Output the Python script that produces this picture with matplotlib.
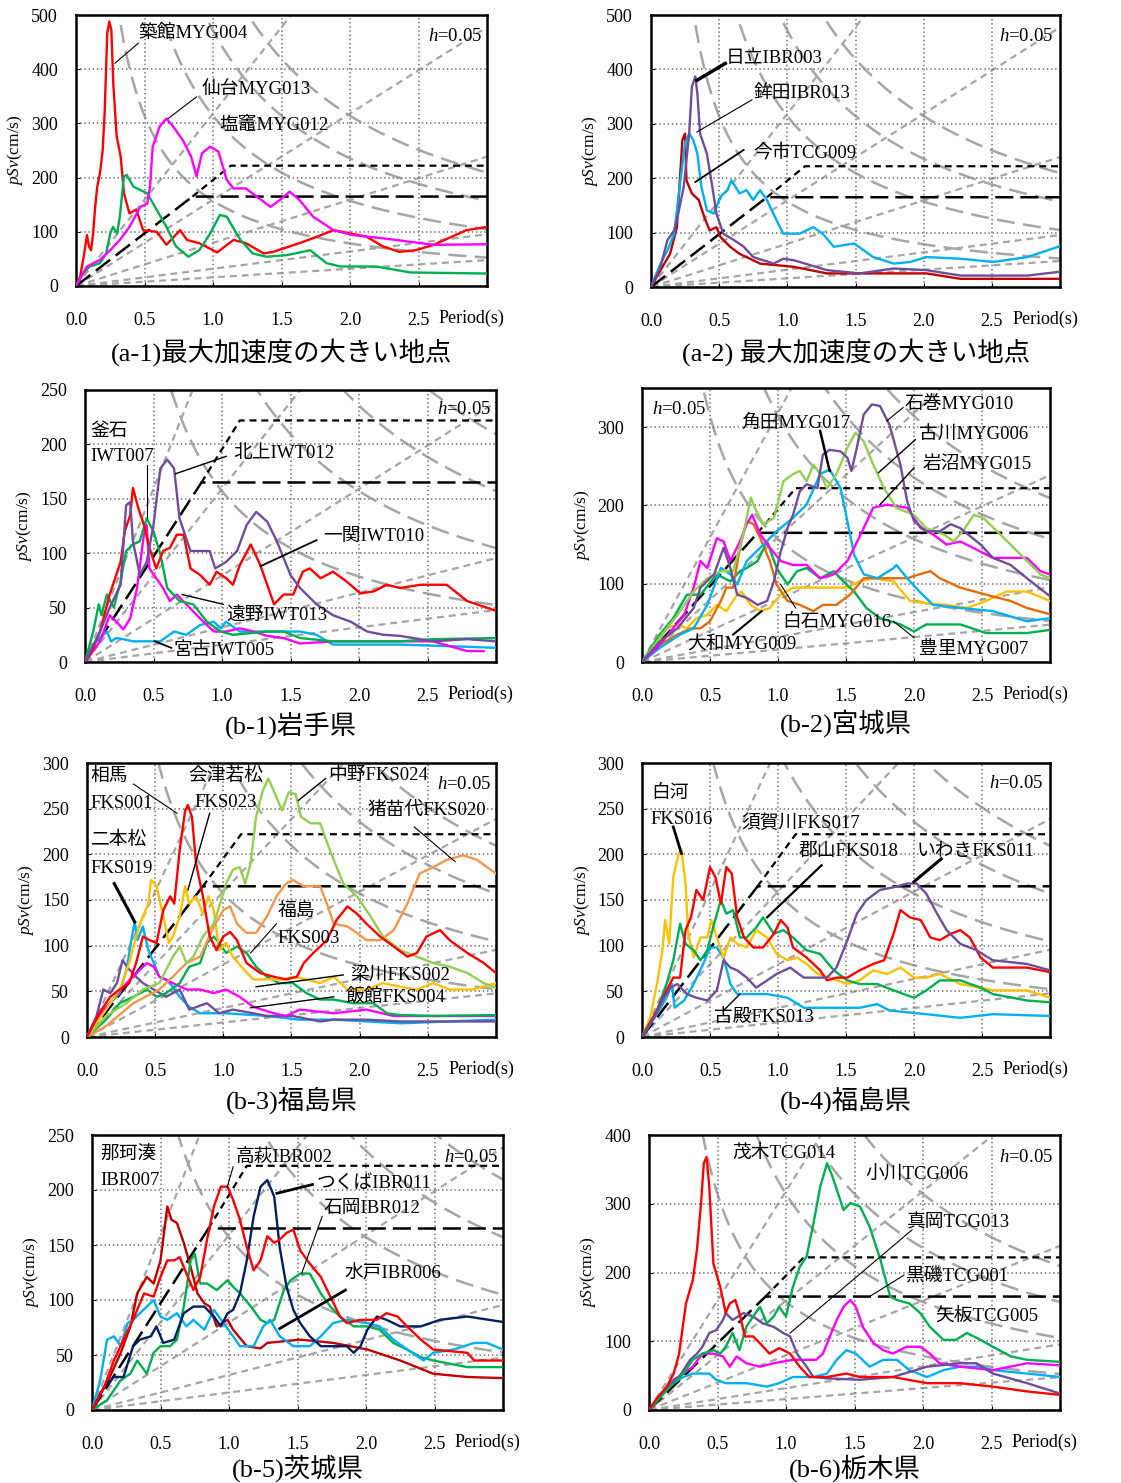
import numpy as np
import matplotlib.pyplot as plt

plt.rcParams['font.family'] = ['Liberation Serif', 'Noto Sans CJK JP']
plt.rcParams['mathtext.fontset'] = 'custom'
plt.rcParams['mathtext.rm'] = 'Liberation Serif'
plt.rcParams['mathtext.it'] = 'Liberation Serif:italic'
plt.rcParams['lines.scale_dashes'] = False

# ---- colours
RED = '#FF0000'
DRED = '#C00000'
GREEN = '#00B050'
LGREEN = '#92D050'
MAG = '#FF00FF'
PURP = '#6E4E9C'
CYAN = '#00B0F0'
ORANGE = '#E46C0A'
LORANGE = '#F79646'
AMBER = '#FFC000'
NAVY = '#002060'
GRAY = '#A6A6A6'

# ---- reference lines (constant acceleration in gal, constant displacement in cm)
sa_levels = [100, 200, 500, 1000, 2000]
sd_levels = [25, 50, 75, 100]
design_long_T = [0.0, 0.85, 3.0]
design_long_V = [0, 165, 165]
design_short_T = [0.85, 1.13, 3.0]
design_short_V = [165, 222, 222]

# ---- (a-1)
t_a1_myg004 = [0, 0.03, 0.06, 0.08, 0.095, 0.11, 0.125, 0.14, 0.155, 0.175, 0.195, 0.21, 0.228, 0.243, 0.258, 0.272, 0.297, 0.326, 0.35, 0.39, 0.44, 0.49, 0.59, 0.66, 0.76, 0.81, 0.9, 1.03, 1.15, 1.24, 1.37, 1.44, 1.63, 1.76, 1.88, 2.0, 2.12, 2.24, 2.36, 2.48, 2.61, 2.85, 3.0]
v_a1_myg004 = [0, 17, 60, 94, 73, 66, 97, 146, 183, 208, 251, 325, 466, 488, 472, 374, 276, 239, 171, 134, 141, 103, 100, 76, 103, 85, 79, 62, 85, 79, 60, 63, 79, 91, 103, 97, 91, 73, 63, 66, 76, 103, 109]
t_a1_myg012 = [0, 0.05, 0.1, 0.175, 0.22, 0.25, 0.27, 0.3, 0.32, 0.35, 0.37, 0.42, 0.47, 0.52, 0.59, 0.66, 0.73, 0.82, 0.9, 0.98, 1.05, 1.1, 1.2, 1.29, 1.39, 1.54, 1.71, 1.83, 1.93, 2.19, 2.44, 3.0]
v_a1_myg012 = [0, 23, 36, 42, 60, 97, 109, 97, 128, 202, 205, 183, 177, 171, 140, 109, 73, 54, 66, 97, 131, 128, 85, 60, 54, 57, 66, 42, 36, 36, 25, 23]
t_a1_myg013 = [0, 0.08, 0.175, 0.25, 0.32, 0.39, 0.47, 0.52, 0.54, 0.56, 0.61, 0.66, 0.71, 0.78, 0.84, 0.88, 0.92, 0.98, 1.04, 1.1, 1.15, 1.24, 1.42, 1.49, 1.56, 1.63, 1.73, 1.88, 2.02, 2.24, 2.61, 3.0]
v_a1_myg013 = [0, 36, 48, 66, 85, 109, 146, 152, 183, 257, 294, 309, 294, 269, 239, 202, 245, 257, 248, 196, 180, 180, 146, 159, 174, 159, 128, 103, 94, 88, 76, 77]

# ---- (a-2)
t_a2_ibr003 = [0, 0.07, 0.12, 0.17, 0.2, 0.24, 0.28, 0.3, 0.325, 0.34, 0.36, 0.41, 0.45, 0.48, 0.53, 0.61, 0.68, 0.75, 0.9, 0.97, 1.05, 1.29, 1.53, 1.78, 2.02, 2.27, 2.76, 3.0]
v_a2_ibr003 = [0, 37, 86, 104, 135, 184, 282, 368, 387, 356, 282, 245, 184, 135, 98, 86, 74, 55, 43, 52, 49, 31, 25, 34, 31, 21, 21, 28]
t_a2_tcg009 = [0, 0.07, 0.14, 0.19, 0.23, 0.25, 0.26, 0.3, 0.35, 0.39, 0.43, 0.48, 0.51, 0.58, 0.65, 0.8, 1.05, 1.29, 1.53, 1.78, 2.02, 2.27, 3.0]
v_a2_tcg009 = [0, 31, 61, 110, 270, 282, 196, 172, 160, 129, 104, 110, 92, 74, 61, 43, 37, 25, 25, 25, 25, 15, 15]
t_a2_ibr013 = [0, 0.07, 0.12, 0.17, 0.21, 0.25, 0.28, 0.31, 0.34, 0.37, 0.41, 0.46, 0.51, 0.56, 0.59, 0.65, 0.7, 0.75, 0.8, 0.85, 0.92, 0.97, 1.09, 1.19, 1.26, 1.34, 1.49, 1.63, 1.78, 1.9, 2.02, 2.27, 2.51, 2.76, 3.0]
v_a2_ibr013 = [0, 43, 67, 98, 184, 264, 282, 270, 245, 184, 141, 135, 166, 178, 196, 172, 178, 160, 178, 160, 123, 98, 98, 110, 98, 74, 80, 55, 43, 46, 55, 52, 46, 55, 75]

# ---- (b-1)
t_b1_iwt010 = [0, 0.05, 0.11, 0.18, 0.26, 0.29, 0.33, 0.35, 0.39, 0.43, 0.47, 0.52, 0.57, 0.62, 0.67, 0.72, 0.77, 0.84, 0.91, 0.96, 1.03, 1.08, 1.13, 1.21, 1.28, 1.38, 1.45, 1.52, 1.59, 1.64, 1.72, 1.81, 1.91, 2.01, 2.11, 2.2, 2.3, 2.45, 2.64, 2.79, 3.0]
v_b1_iwt010 = [0, 10, 28, 62, 92, 120, 135, 160, 141, 126, 105, 86, 102, 105, 117, 117, 86, 80, 71, 83, 77, 71, 89, 108, 89, 53, 62, 62, 83, 86, 77, 83, 74, 63, 65, 71, 68, 71, 71, 56, 47]
t_b1_iwt012 = [0, 0.11, 0.18, 0.26, 0.3, 0.33, 0.35, 0.4, 0.45, 0.5, 0.55, 0.6, 0.65, 0.69, 0.77, 0.84, 0.91, 0.95, 1.03, 1.11, 1.18, 1.25, 1.33, 1.4, 1.5, 1.57, 1.69, 1.81, 1.94, 2.06, 2.18, 2.3, 2.54, 2.79, 3.0]
v_b1_iwt012 = [0, 28, 50, 71, 144, 147, 111, 80, 92, 126, 178, 186, 178, 132, 102, 102, 102, 86, 92, 102, 126, 138, 129, 111, 80, 68, 53, 43, 37, 28, 25, 24, 19, 21, 19]
t_b1_iwt007 = [0, 0.06, 0.1, 0.12, 0.16, 0.21, 0.26, 0.3, 0.35, 0.4, 0.45, 0.5, 0.55, 0.6, 0.69, 0.79, 0.89, 0.99, 1.08, 1.33, 1.45, 1.57, 1.81, 2.06, 2.3, 2.54, 3.0]
v_b1_iwt007 = [0, 28, 53, 43, 62, 50, 74, 102, 108, 111, 132, 120, 99, 68, 56, 53, 37, 28, 25, 28, 28, 22, 19, 19, 19, 21, 22]
t_b1_iwt013 = [0, 0.11, 0.18, 0.23, 0.28, 0.33, 0.38, 0.43, 0.45, 0.47, 0.52, 0.57, 0.62, 0.67, 0.74, 0.84, 0.94, 1.03, 1.13, 1.23, 1.33, 1.45, 1.57, 1.81, 2.06, 2.54, 2.79, 2.91]
v_b1_iwt013 = [0, 19, 43, 37, 30, 40, 68, 117, 126, 86, 77, 68, 56, 62, 53, 40, 28, 28, 31, 28, 24, 22, 17, 19, 19, 19, 10, 10]
t_b1_iwt005 = [0, 0.06, 0.11, 0.16, 0.19, 0.23, 0.28, 0.35, 0.47, 0.55, 0.65, 0.74, 0.84, 0.94, 0.99, 1.03, 1.13, 1.33, 1.57, 1.69, 1.81, 2.3, 2.79, 3.0]
v_b1_iwt005 = [0, 16, 22, 28, 19, 22, 21, 19, 19, 19, 28, 25, 34, 37, 31, 37, 28, 28, 28, 25, 16, 16, 14, 13]

# ---- (b-2)
t_b2_myg010 = [0, 0.13, 0.26, 0.38, 0.43, 0.53, 0.6, 0.65, 0.7, 0.77, 0.85, 0.92, 0.97, 1.02, 1.07, 1.11, 1.16, 1.21, 1.29, 1.33, 1.38, 1.46, 1.51, 1.54, 1.58, 1.63, 1.69, 1.75, 1.82, 1.9, 1.95, 2.0, 2.09, 2.19, 2.27, 2.34, 2.49, 2.58, 2.71, 2.83, 3.0]
v_b2_myg010 = [0, 26, 43, 69, 95, 112, 146, 120, 86, 82, 73, 78, 103, 141, 171, 188, 218, 227, 222, 265, 271, 269, 261, 244, 274, 316, 329, 327, 303, 252, 205, 180, 167, 167, 176, 171, 150, 133, 124, 107, 84]
t_b2_myg006 = [0, 0.13, 0.26, 0.38, 0.48, 0.58, 0.67, 0.75, 0.8, 0.83, 0.89, 0.97, 1.04, 1.11, 1.16, 1.21, 1.26, 1.31, 1.36, 1.43, 1.51, 1.57, 1.63, 1.7, 1.78, 1.87, 2.0, 2.09, 2.22, 2.29, 2.36, 2.44, 2.51, 2.61, 2.71, 2.83, 2.93, 3.0]
v_b2_myg006 = [0, 31, 60, 90, 107, 116, 116, 167, 210, 197, 176, 184, 231, 240, 244, 231, 252, 240, 222, 240, 274, 293, 282, 252, 222, 197, 188, 171, 163, 154, 167, 188, 184, 167, 150, 129, 112, 107]
t_b2_myg015 = [0, 0.11, 0.21, 0.31, 0.38, 0.43, 0.48, 0.55, 0.6, 0.65, 0.72, 0.77, 0.81, 0.87, 0.94, 1.02, 1.11, 1.21, 1.31, 1.41, 1.51, 1.56, 1.63, 1.7, 1.8, 1.95, 2.05, 2.14, 2.24, 2.34, 2.49, 2.58, 2.83, 2.93, 3.0]
v_b2_myg015 = [0, 18, 39, 60, 95, 129, 120, 158, 154, 129, 154, 176, 188, 163, 146, 129, 124, 124, 107, 112, 129, 146, 171, 197, 201, 197, 171, 163, 150, 154, 141, 133, 133, 116, 112]
t_b2_myg017 = [0, 0.13, 0.28, 0.38, 0.48, 0.58, 0.65, 0.7, 0.77, 0.87, 0.99, 1.11, 1.21, 1.31, 1.38, 1.46, 1.51, 1.56, 1.63, 1.73, 1.85, 1.87, 1.95, 2.04, 2.14, 2.34, 2.58, 2.83, 3.0]
v_b2_myg017 = [0, 18, 35, 43, 73, 120, 112, 99, 129, 146, 167, 184, 201, 240, 246, 222, 180, 137, 112, 107, 120, 124, 107, 90, 73, 69, 65, 52, 56]
t_b2_myg016 = [0, 0.13, 0.26, 0.36, 0.43, 0.5, 0.58, 0.62, 0.67, 0.72, 0.77, 0.82, 0.87, 0.94, 0.99, 1.07, 1.16, 1.26, 1.33, 1.43, 1.53, 1.63, 1.73, 1.83, 1.95, 2.04, 2.12, 2.19, 2.34, 2.53, 2.71, 2.83, 3.0]
v_b2_myg016 = [0, 22, 35, 43, 43, 52, 78, 95, 95, 146, 180, 176, 158, 129, 99, 78, 73, 65, 73, 73, 86, 107, 107, 107, 107, 112, 116, 107, 95, 86, 78, 69, 61]
t_b2_myg007 = [0, 0.13, 0.23, 0.33, 0.43, 0.55, 0.65, 0.72, 0.77, 0.85, 0.92, 0.99, 1.07, 1.14, 1.21, 1.31, 1.41, 1.48, 1.56, 1.65, 1.75, 1.9, 2.0, 2.09, 2.34, 2.53, 2.83, 3.0]
v_b2_myg007 = [0, 35, 56, 86, 86, 112, 103, 116, 120, 129, 154, 120, 99, 116, 120, 107, 116, 103, 90, 69, 56, 48, 39, 48, 48, 37, 37, 41]
t_b2_myg009 = [0, 0.09, 0.18, 0.26, 0.33, 0.4, 0.48, 0.55, 0.62, 0.7, 0.73, 0.8, 0.87, 0.94, 1.02, 1.11, 1.21, 1.36, 1.51, 1.6, 1.7, 1.85, 1.97, 2.09, 2.24, 2.39, 2.53, 2.68, 2.83, 3.0]
v_b2_myg009 = [0, 18, 43, 48, 43, 56, 60, 73, 65, 86, 90, 73, 65, 69, 86, 95, 95, 95, 95, 103, 107, 103, 78, 75, 73, 69, 78, 90, 90, 78]

# ---- (b-3)
t_b3_red = [0, 0.09, 0.17, 0.24, 0.31, 0.36, 0.41, 0.46, 0.51, 0.56, 0.61, 0.64, 0.68, 0.72, 0.74, 0.77, 0.8, 0.85, 0.9, 0.95, 1.0, 1.05, 1.1, 1.17, 1.27, 1.37, 1.46, 1.54, 1.59, 1.66, 1.76, 1.83, 1.91, 1.98, 2.05, 2.15, 2.25, 2.35, 2.42, 2.49, 2.59, 2.66, 2.79, 2.91, 3.0]
v_b3_red = [0, 26, 44, 52, 59, 81, 110, 106, 103, 139, 154, 146, 205, 248, 254, 241, 190, 154, 110, 95, 110, 115, 106, 81, 70, 66, 63, 66, 81, 92, 106, 128, 143, 135, 124, 110, 99, 88, 92, 110, 117, 106, 92, 81, 70]
t_b3_fks024 = [0, 0.14, 0.29, 0.41, 0.53, 0.63, 0.68, 0.73, 0.78, 0.85, 0.93, 0.97, 1.02, 1.07, 1.12, 1.16, 1.2, 1.24, 1.29, 1.33, 1.38, 1.43, 1.48, 1.53, 1.57, 1.64, 1.71, 1.78, 1.88, 1.98, 2.08, 2.17, 2.3, 2.42, 2.54, 2.66, 2.79, 2.91, 3.0]
v_b3_fks024 = [0, 23, 37, 52, 59, 88, 99, 81, 88, 110, 124, 143, 168, 183, 186, 168, 190, 241, 270, 283, 266, 248, 268, 266, 241, 234, 234, 205, 168, 154, 132, 110, 95, 88, 81, 77, 70, 59, 54]
t_b3_fks020 = [0, 0.14, 0.34, 0.53, 0.63, 0.73, 0.83, 0.93, 1.0, 1.05, 1.1, 1.17, 1.24, 1.32, 1.39, 1.46, 1.51, 1.59, 1.71, 1.76, 1.81, 1.91, 1.98, 2.05, 2.15, 2.25, 2.35, 2.44, 2.54, 2.64, 2.76, 2.86, 3.0]
v_b3_fks020 = [0, 12, 37, 52, 66, 81, 88, 121, 139, 143, 124, 114, 114, 132, 154, 168, 172, 165, 165, 146, 124, 121, 114, 106, 106, 117, 146, 179, 186, 194, 199, 194, 179]
t_b3_amber = [0, 0.14, 0.24, 0.31, 0.36, 0.41, 0.45, 0.47, 0.51, 0.56, 0.6, 0.63, 0.68, 0.72, 0.75, 0.8, 0.85, 0.89, 0.93, 0.97, 1.02, 1.07, 1.15, 1.22, 1.32, 1.44, 1.51, 1.61, 1.71, 1.81, 1.91, 2.05, 2.17, 2.3, 2.42, 2.54, 2.66, 2.83, 3.0]
v_b3_amber = [0, 30, 52, 81, 110, 132, 146, 172, 165, 132, 103, 110, 132, 165, 146, 154, 135, 154, 139, 95, 103, 88, 74, 63, 63, 63, 66, 63, 59, 66, 52, 52, 59, 55, 52, 59, 52, 52, 59]
t_b3_fks019 = [0, 0.09, 0.17, 0.24, 0.29, 0.33, 0.35, 0.37, 0.41, 0.45, 0.49, 0.53, 0.58, 0.63, 0.68, 0.75, 0.83, 1.02, 1.22, 1.32, 1.56, 1.81, 2.3, 3.0]
v_b3_fks019 = [0, 26, 37, 48, 74, 110, 126, 106, 121, 95, 81, 66, 63, 55, 44, 33, 26, 26, 24, 23, 19, 19, 15, 19]
t_b3_purple = [0, 0.07, 0.12, 0.17, 0.22, 0.26, 0.31, 0.36, 0.41, 0.49, 0.58, 0.68, 0.75, 0.88, 0.97, 1.07, 1.22, 1.32, 1.51, 1.71, 1.81, 2.05, 2.3, 2.54, 3.0]
v_b3_purple = [0, 23, 52, 48, 59, 84, 74, 66, 59, 52, 44, 52, 30, 37, 26, 30, 26, 23, 23, 17, 19, 19, 17, 17, 17]
t_b3_magenta = [0, 0.09, 0.19, 0.29, 0.39, 0.44, 0.49, 0.53, 0.63, 0.73, 0.83, 0.93, 1.02, 1.12, 1.22, 1.37, 1.46, 1.56, 1.81, 2.05, 2.25, 3.0]
v_b3_magenta = [0, 23, 41, 59, 74, 81, 77, 66, 59, 52, 52, 48, 52, 44, 33, 26, 23, 30, 26, 30, 23, 23]
t_b3_green = [0, 0.14, 0.24, 0.34, 0.44, 0.51, 0.58, 0.68, 0.75, 0.83, 0.88, 0.93, 0.97, 1.02, 1.1, 1.17, 1.24, 1.32, 1.41, 1.51, 1.61, 1.71, 1.81, 1.95, 2.1, 2.2, 2.3, 2.54, 3.0]
v_b3_green = [0, 19, 37, 44, 52, 44, 48, 59, 77, 81, 103, 110, 103, 92, 99, 92, 77, 66, 59, 59, 48, 41, 41, 37, 37, 26, 24, 23, 24]

# ---- (b-4)
t_b4_fks016 = [0, 0.06, 0.11, 0.15, 0.17, 0.2, 0.23, 0.27, 0.29, 0.32, 0.34, 0.38, 0.43, 0.48, 0.51, 0.55, 0.6, 0.65, 0.7, 0.77, 0.84, 0.92, 0.99, 1.07, 1.14, 1.21, 1.29, 1.38, 1.51, 1.6, 1.7, 1.8, 1.9, 2.0, 2.09, 2.19, 2.34, 2.49, 2.58, 2.83, 3.0]
v_b4_fks016 = [0, 21, 58, 95, 128, 102, 175, 201, 205, 168, 113, 87, 109, 109, 128, 109, 87, 109, 102, 98, 117, 109, 91, 84, 87, 80, 69, 65, 58, 62, 73, 69, 76, 65, 65, 69, 58, 54, 51, 51, 43]
t_b4_fks017 = [0, 0.11, 0.18, 0.23, 0.28, 0.32, 0.36, 0.4, 0.45, 0.5, 0.54, 0.58, 0.62, 0.66, 0.7, 0.75, 0.82, 0.89, 0.97, 1.02, 1.07, 1.11, 1.21, 1.31, 1.36, 1.43, 1.51, 1.6, 1.7, 1.78, 1.85, 1.9, 1.97, 2.05, 2.12, 2.19, 2.27, 2.34, 2.41, 2.49, 2.58, 2.83, 3.0]
v_b4_fks017 = [0, 29, 51, 65, 65, 117, 131, 161, 150, 186, 175, 146, 186, 179, 131, 109, 98, 98, 113, 128, 120, 98, 87, 73, 62, 65, 65, 73, 80, 84, 113, 139, 131, 128, 109, 106, 113, 117, 109, 87, 76, 76, 71]
t_b4_fks018 = [0, 0.11, 0.18, 0.23, 0.28, 0.32, 0.38, 0.43, 0.48, 0.53, 0.58, 0.62, 0.67, 0.72, 0.77, 0.84, 0.89, 0.97, 1.04, 1.11, 1.21, 1.31, 1.41, 1.51, 1.6, 1.73, 1.85, 2.0, 2.09, 2.19, 2.34, 2.49, 2.58, 2.83, 3.0]
v_b4_fks018 = [0, 29, 58, 84, 124, 102, 95, 84, 95, 124, 150, 135, 139, 109, 109, 120, 131, 113, 117, 109, 95, 91, 73, 62, 58, 58, 51, 43, 51, 62, 62, 54, 47, 40, 38]
t_b4_fks011 = [0, 0.09, 0.16, 0.21, 0.26, 0.33, 0.4, 0.48, 0.55, 0.6, 0.65, 0.7, 0.77, 0.84, 0.92, 0.99, 1.09, 1.19, 1.29, 1.36, 1.43, 1.51, 1.58, 1.65, 1.75, 1.85, 1.95, 2.02, 2.09, 2.17, 2.24, 2.34, 2.46, 2.58, 2.83, 3.0]
v_b4_fks011 = [0, 21, 43, 54, 58, 47, 43, 40, 51, 84, 76, 73, 65, 54, 62, 69, 76, 65, 65, 65, 76, 106, 135, 150, 161, 164, 168, 168, 157, 135, 117, 102, 95, 84, 80, 73]
t_b4_fks013 = [0, 0.11, 0.18, 0.22, 0.24, 0.31, 0.38, 0.45, 0.5, 0.55, 0.6, 0.65, 0.7, 0.82, 0.92, 1.07, 1.19, 1.36, 1.6, 1.73, 1.82, 2.09, 2.34, 2.58, 3.0]
v_b4_fks013 = [0, 25, 43, 58, 32, 40, 58, 80, 98, 98, 87, 58, 47, 47, 47, 43, 32, 32, 32, 36, 29, 25, 21, 25, 23]

# ---- (b-5)
t_b5_ibr007 = [0, 0.06, 0.13, 0.21, 0.28, 0.33, 0.4, 0.45, 0.5, 0.55, 0.58, 0.62, 0.67, 0.72, 0.77, 0.82, 0.86, 0.91, 0.99, 1.03, 1.13, 1.23, 1.28, 1.52, 1.76, 2.01, 2.25, 2.49, 2.74, 3.0]
v_b5_ibr007 = [0, 15, 30, 52, 76, 106, 121, 115, 136, 185, 173, 170, 152, 130, 106, 97, 94, 76, 82, 73, 58, 56, 61, 64, 61, 55, 45, 33, 30, 29]
t_b5_ibr002 = [0, 0.09, 0.16, 0.23, 0.3, 0.38, 0.45, 0.5, 0.55, 0.6, 0.64, 0.69, 0.74, 0.79, 0.84, 0.89, 0.94, 0.99, 1.03, 1.08, 1.13, 1.18, 1.23, 1.28, 1.33, 1.37, 1.42, 1.47, 1.52, 1.59, 1.67, 1.74, 1.81, 1.86, 1.96, 2.08, 2.15, 2.23, 2.3, 2.4, 2.49, 2.74, 2.79, 3.0]
v_b5_ibr002 = [0, 21, 45, 64, 82, 106, 103, 121, 136, 136, 139, 124, 109, 121, 155, 185, 203, 203, 191, 173, 148, 127, 136, 158, 152, 155, 161, 164, 145, 133, 121, 103, 85, 79, 82, 82, 88, 85, 76, 64, 55, 52, 45, 45]
t_b5_ibr011 = [0, 0.09, 0.16, 0.23, 0.3, 0.35, 0.43, 0.47, 0.52, 0.6, 0.67, 0.74, 0.82, 0.89, 0.94, 0.99, 1.03, 1.08, 1.13, 1.18, 1.23, 1.28, 1.33, 1.37, 1.42, 1.47, 1.52, 1.59, 1.67, 1.76, 1.86, 1.91, 1.96, 2.01, 2.08, 2.15, 2.25, 2.4, 2.54, 2.74, 3.0]
v_b5_ibr011 = [0, 21, 30, 30, 58, 64, 67, 76, 61, 64, 88, 94, 94, 85, 76, 88, 91, 106, 136, 176, 203, 209, 194, 148, 112, 91, 79, 67, 58, 58, 58, 52, 58, 73, 85, 82, 76, 76, 82, 85, 80]
t_b5_ibr012 = [0, 0.11, 0.21, 0.28, 0.33, 0.4, 0.45, 0.5, 0.57, 0.62, 0.67, 0.72, 0.75, 0.79, 0.84, 0.91, 0.99, 1.03, 1.08, 1.16, 1.23, 1.28, 1.33, 1.4, 1.45, 1.52, 1.59, 1.67, 1.74, 1.81, 1.91, 2.01, 2.1, 2.2, 2.3, 2.4, 2.49, 2.74, 3.0]
v_b5_ibr012 = [0, 9, 27, 33, 45, 33, 52, 58, 58, 64, 94, 136, 142, 115, 115, 109, 118, 112, 106, 94, 82, 79, 82, 109, 118, 124, 124, 106, 94, 85, 76, 76, 73, 61, 55, 48, 45, 39, 39]
t_b5_ibr006 = [0, 0.06, 0.11, 0.16, 0.21, 0.26, 0.3, 0.35, 0.4, 0.45, 0.5, 0.55, 0.62, 0.69, 0.74, 0.82, 0.89, 0.96, 1.03, 1.08, 1.18, 1.25, 1.3, 1.37, 1.47, 1.59, 1.67, 1.76, 1.86, 2.01, 2.1, 2.2, 2.3, 2.42, 2.49, 2.64, 2.79, 2.88, 3.0]
v_b5_ibr006 = [0, 27, 64, 67, 58, 79, 82, 88, 94, 100, 85, 82, 88, 76, 82, 73, 91, 79, 67, 58, 58, 76, 82, 67, 58, 58, 67, 79, 82, 79, 76, 64, 55, 45, 52, 55, 61, 61, 55]

# ---- (b-6)
t_b6_tcg014 = [0, 0.05, 0.13, 0.18, 0.22, 0.27, 0.32, 0.35, 0.38, 0.4, 0.42, 0.44, 0.47, 0.52, 0.56, 0.59, 0.63, 0.66, 0.7, 0.76, 0.81, 0.88, 0.95, 1.03, 1.1, 1.17, 1.3, 1.44, 1.54, 1.78, 2.03, 2.27, 2.51, 2.76, 3.0]
v_b6_tcg014 = [0, 15, 34, 53, 82, 155, 189, 233, 301, 359, 368, 325, 213, 179, 141, 155, 160, 141, 107, 107, 97, 82, 90, 82, 63, 48, 48, 53, 48, 48, 39, 39, 34, 27, 22]
t_b6_tcg006 = [0, 0.13, 0.25, 0.32, 0.39, 0.47, 0.52, 0.56, 0.61, 0.66, 0.71, 0.76, 0.81, 0.86, 0.91, 0.95, 1.0, 1.05, 1.1, 1.15, 1.2, 1.25, 1.3, 1.34, 1.42, 1.47, 1.54, 1.61, 1.69, 1.76, 1.81, 1.9, 1.98, 2.05, 2.15, 2.24, 2.32, 2.42, 2.51, 2.64, 2.76, 3.0]
v_b6_tcg006 = [0, 29, 53, 73, 82, 87, 82, 92, 112, 87, 121, 136, 150, 126, 136, 150, 136, 179, 208, 223, 271, 325, 359, 339, 291, 301, 296, 267, 218, 165, 160, 155, 141, 121, 102, 102, 112, 102, 92, 78, 73, 70]
t_b6_tcg013 = [0, 0.08, 0.15, 0.22, 0.3, 0.35, 0.39, 0.44, 0.49, 0.54, 0.56, 0.61, 0.69, 0.76, 0.83, 0.91, 0.98, 1.03, 1.08, 1.15, 1.2, 1.3, 1.54, 1.78, 2.03, 2.27, 2.39, 2.51, 2.76, 3.0]
v_b6_tcg013 = [0, 19, 39, 48, 73, 82, 92, 112, 116, 131, 141, 131, 141, 136, 126, 121, 112, 107, 82, 63, 48, 46, 44, 48, 63, 68, 68, 53, 39, 24]
t_b6_tcg001 = [0, 0.08, 0.18, 0.25, 0.32, 0.39, 0.47, 0.54, 0.59, 0.64, 0.71, 0.81, 0.91, 1.05, 1.15, 1.22, 1.27, 1.32, 1.37, 1.42, 1.47, 1.51, 1.56, 1.64, 1.71, 1.78, 1.88, 1.98, 2.05, 2.12, 2.27, 2.51, 2.76, 3.0]
v_b6_tcg001 = [0, 19, 44, 53, 63, 82, 82, 78, 63, 78, 68, 63, 68, 73, 73, 73, 82, 107, 131, 150, 160, 150, 121, 97, 87, 82, 92, 92, 82, 68, 63, 58, 68, 65]
t_b6_tcg005 = [0, 0.08, 0.18, 0.25, 0.32, 0.39, 0.44, 0.49, 0.56, 0.71, 0.86, 0.95, 1.05, 1.2, 1.3, 1.37, 1.44, 1.51, 1.61, 1.71, 1.81, 1.9, 2.03, 2.15, 2.27, 2.42, 2.51, 2.76, 3.0]
v_b6_tcg005 = [0, 19, 39, 48, 53, 53, 53, 44, 39, 39, 34, 39, 48, 48, 53, 73, 87, 82, 63, 73, 73, 58, 48, 58, 63, 63, 58, 53, 48]

# ---- figure
W, H = 1121, 1483
fig = plt.figure(figsize=(W / 100, H / 100), dpi=100)


def add_ax(l, r, t, b):
    return fig.add_axes([l / W, 1 - b / H, (r - l) / W, (b - t) / H])


def draw_panel(box, ymax, yticks, series, labels, leaders, hpos, subtitle, sub_y):
    ax = add_ax(*box)
    tt = np.linspace(0.005, 3.0, 500)
    for sa in sa_levels:
        ax.plot(tt, sa * tt / (2 * np.pi), color=GRAY, lw=1.6, dashes=(5, 3.5), zorder=1)
    for sd in sd_levels:
        ax.plot(tt, 2 * np.pi * sd / tt, color=GRAY, lw=1.8, dashes=(13, 6), zorder=1)
    ax.plot(design_long_T, design_long_V, color='black', lw=1.8, dashes=(13, 5), zorder=2)
    ax.plot(design_short_T, design_short_V, color='black', lw=1.6, dashes=(5, 3.5), zorder=2)
    for t, v, c in series:
        ax.plot(t, v, color=c, lw=1.7, zorder=3)
    for txt, x, y in labels:
        ax.text(x, y, txt, fontsize=13.5, ha='left', va='center', zorder=5)
    for x1, y1, x2, y2, lw in leaders:
        ax.plot([x1, x2], [y1, y2], color='black', lw=lw, zorder=4)
    ax.text(hpos[0], hpos[1], r'$h$=0.05', fontsize=13.5, ha=hpos[2], va='center', zorder=5)
    ax.set_xlim(0, 3.0)
    ax.set_ylim(0, ymax)
    ax.set_xticks([0, 0.5, 1.0, 1.5, 2.0, 2.5])
    ax.set_xticklabels(['0.0', '0.5', '1.0', '1.5', '2.0', '2.5'])
    ax.set_yticks(yticks)
    ax.grid(True, color='#808080', ls=(0, (1, 2)), lw=1.3)
    ax.tick_params(axis='x', direction='in', length=3, pad=19, labelsize=13)
    ax.tick_params(axis='y', direction='in', length=3, pad=13, labelsize=13)
    for s in ax.spines.values():
        s.set_linewidth(1.8)
    ax.text(2.89, -0.118, 'Period(s)', transform=ax.get_xaxis_transform(),
            fontsize=13, ha='center', va='center')
    ax.text(-0.148, 0.5, r'$pSv$(cm/s)', transform=ax.transAxes, rotation=90,
            fontsize=12.5, ha='center', va='center')
    cx = (box[0] + box[1]) / 2 / W
    fig.text(cx, 1 - sub_y / H, subtitle, fontsize=19, ha='center', va='center')
    return ax


draw_panel((76, 487, 15, 286), 500, [0, 100, 200, 300, 400, 500],
           [(t_a1_myg004, v_a1_myg004, RED), (t_a1_myg012, v_a1_myg012, GREEN),
            (t_a1_myg013, v_a1_myg013, MAG)],
           [('築館MYG004', 0.455, 466), ('仙台MYG013', 0.92, 362), ('塩竈MYG012', 1.05, 297)],
           [(0.455, 448, 0.284, 411, 0.8), (0.88, 349, 0.673, 309, 0.8)],
           (2.96, 461, 'right'), '(a-1)最大加速度の大きい地点', 352)

draw_panel((651, 1060, 15, 287), 500, [0, 100, 200, 300, 400, 500],
           [(t_a2_tcg009, v_a2_tcg009, DRED), (t_a2_ibr013, v_a2_ibr013, CYAN),
            (t_a2_ibr003, v_a2_ibr003, PURP)],
           [('日立IBR003', 0.545, 420), ('鉾田IBR013', 0.75, 356), ('今市TCG009', 0.75, 248)],
           [(0.545, 411, 0.337, 380, 2.5), (0.74, 344, 0.337, 285, 0.8), (0.68, 252, 0.325, 193, 1.3)],
           (2.95, 460, 'right'), '(a-2) 最大加速度の大きい地点', 352)

draw_panel((85, 496, 390, 662), 250, [0, 50, 100, 150, 200, 250],
           [(t_b1_iwt005, v_b1_iwt005, CYAN), (t_b1_iwt013, v_b1_iwt013, MAG),
            (t_b1_iwt007, v_b1_iwt007, GREEN), (t_b1_iwt010, v_b1_iwt010, RED),
            (t_b1_iwt012, v_b1_iwt012, PURP)],
           [('釜石', 0.04, 212), ('IWT007', 0.04, 189), ('北上IWT012', 1.08, 192),
            ('一関IWT010', 1.74, 115), ('遠野IWT013', 1.03, 43), ('宮古IWT005', 0.645, 11)],
           [(0.45, 181, 0.45, 132, 0.8), (1.03, 189, 0.66, 173, 1.0), (1.69, 112, 1.28, 88, 1.3),
            (1.01, 53, 0.71, 62, 1.0), (0.63, 13, 0.51, 19, 1.3)],
           (2.96, 232, 'right'), '(b-1)岩手県', 725)

draw_panel((642, 1050, 388, 662), 350, [0, 100, 200, 300],
           [(t_b2_myg009, v_b2_myg009, AMBER), (t_b2_myg007, v_b2_myg007, GREEN),
            (t_b2_myg016, v_b2_myg016, ORANGE), (t_b2_myg017, v_b2_myg017, CYAN),
            (t_b2_myg015, v_b2_myg015, MAG), (t_b2_myg006, v_b2_myg006, LGREEN),
            (t_b2_myg010, v_b2_myg010, PURP)],
           [('石巻MYG010', 1.93, 329), ('角田MYG017', 0.73, 305), ('古川MYG006', 2.04, 291),
            ('岩沼MYG015', 2.06, 252), ('白石MYG016', 1.03, 50), ('大和MYG009', 0.33, 22),
            ('豊里MYG007', 2.04, 16)],
           [(1.92, 325, 1.80, 308, 0.8), (1.31, 295, 1.38, 244, 1.8), (2.01, 284, 1.74, 242, 1.0),
            (2.0, 248, 1.75, 201, 1.0), (1.13, 69, 1.02, 99, 0.8), (0.67, 35, 0.88, 65, 1.5),
            (2.0, 31, 1.85, 52, 0.8)],
           (0.07, 322, 'left'), '(b-2)宮城県', 723)

draw_panel((87, 496, 763, 1037), 300, [0, 50, 100, 150, 200, 250, 300],
           [(t_b3_fks019, v_b3_fks019, CYAN), (t_b3_purple, v_b3_purple, PURP),
            (t_b3_magenta, v_b3_magenta, MAG), (t_b3_green, v_b3_green, GREEN),
            (t_b3_amber, v_b3_amber, AMBER), (t_b3_fks020, v_b3_fks020, LORANGE),
            (t_b3_fks024, v_b3_fks024, LGREEN), (t_b3_red, v_b3_red, RED)],
           [('相馬', 0.025, 285), ('FKS001', 0.025, 256), ('会津若松', 0.74, 286),
            ('FKS023', 0.79, 257), ('中野FKS024', 1.77, 286), ('猪苗代FKS020', 2.06, 248),
            ('二本松', 0.025, 215), ('FKS019', 0.025, 185), ('福島', 1.40, 137),
            ('FKS003', 1.40, 108), ('梁川FKS002', 1.93, 68), ('飯館FKS004', 1.90, 44)],
           [(0.34, 277, 0.66, 245, 0.8), (0.90, 245, 0.74, 161, 1.0), (1.75, 283, 1.55, 259, 1.0),
            (2.40, 230, 2.70, 192, 0.8), (0.20, 168, 0.35, 126, 2.2), (1.39, 124, 1.20, 92, 0.8),
            (1.88, 68, 1.24, 55, 1.0), (1.81, 44, 1.20, 32, 1.0)],
           (2.96, 277, 'right'), '(b-3)福島県', 1100)

draw_panel((642, 1050, 763, 1037), 300, [0, 50, 100, 150, 200, 250, 300],
           [(t_b4_fks013, v_b4_fks013, CYAN), (t_b4_fks016, v_b4_fks016, AMBER),
            (t_b4_fks018, v_b4_fks018, GREEN), (t_b4_fks017, v_b4_fks017, RED),
            (t_b4_fks011, v_b4_fks011, PURP)],
           [('白河', 0.07, 267), ('FKS016', 0.06, 238), ('須賀川FKS017', 0.73, 234),
            ('郡山FKS018', 1.15, 203), ('いわきFKS011', 2.02, 203), ('古殿FKS013', 0.53, 21)],
           [(0.23, 230, 0.29, 201, 2.0), (1.32, 188, 0.92, 131, 1.6), (2.20, 195, 2.0, 170, 2.2),
            (0.60, 29, 0.72, 47, 1.0)],
           (2.95, 278, 'right'), '(b-4)福島県', 1100)

draw_panel((92, 503, 1135, 1410), 250, [0, 50, 100, 150, 200, 250],
           [(t_b5_ibr007, v_b5_ibr007, DRED), (t_b5_ibr012, v_b5_ibr012, GREEN),
            (t_b5_ibr006, v_b5_ibr006, CYAN), (t_b5_ibr011, v_b5_ibr011, NAVY),
            (t_b5_ibr002, v_b5_ibr002, RED)],
           [('那珂湊', 0.06, 233), ('IBR007', 0.06, 209), ('高萩IBR002', 1.05, 230),
            ('つくばIBR011', 1.64, 206), ('石岡IBR012', 1.69, 183), ('水戸IBR006', 1.84, 124)],
           [(1.03, 221, 0.985, 202, 0.8), (1.61, 205, 1.35, 197, 2.0), (1.68, 176, 1.53, 124, 0.8),
            (1.85, 109, 1.37, 74, 2.0)],
           (2.96, 230, 'right'), '(b-5)茨城県', 1468)

draw_panel((649, 1060, 1135, 1410), 400, [0, 100, 200, 300, 400],
           [(t_b6_tcg005, v_b6_tcg005, CYAN), (t_b6_tcg001, v_b6_tcg001, MAG),
            (t_b6_tcg013, v_b6_tcg013, PURP), (t_b6_tcg006, v_b6_tcg006, GREEN),
            (t_b6_tcg014, v_b6_tcg014, RED)],
           [('茂木TCG014', 0.61, 373), ('小川TCG006', 1.58, 342), ('真岡TCG013', 1.88, 272),
            ('黒磯TCG001', 1.87, 194), ('矢板TCG005', 2.09, 136)],
           [(1.92, 262, 1.03, 112, 0.8), (1.86, 196, 1.61, 165, 0.8)],
           (2.95, 368, 'right'), '(b-6)栃木県', 1468)

fig.savefig('out.png', dpi=100)
